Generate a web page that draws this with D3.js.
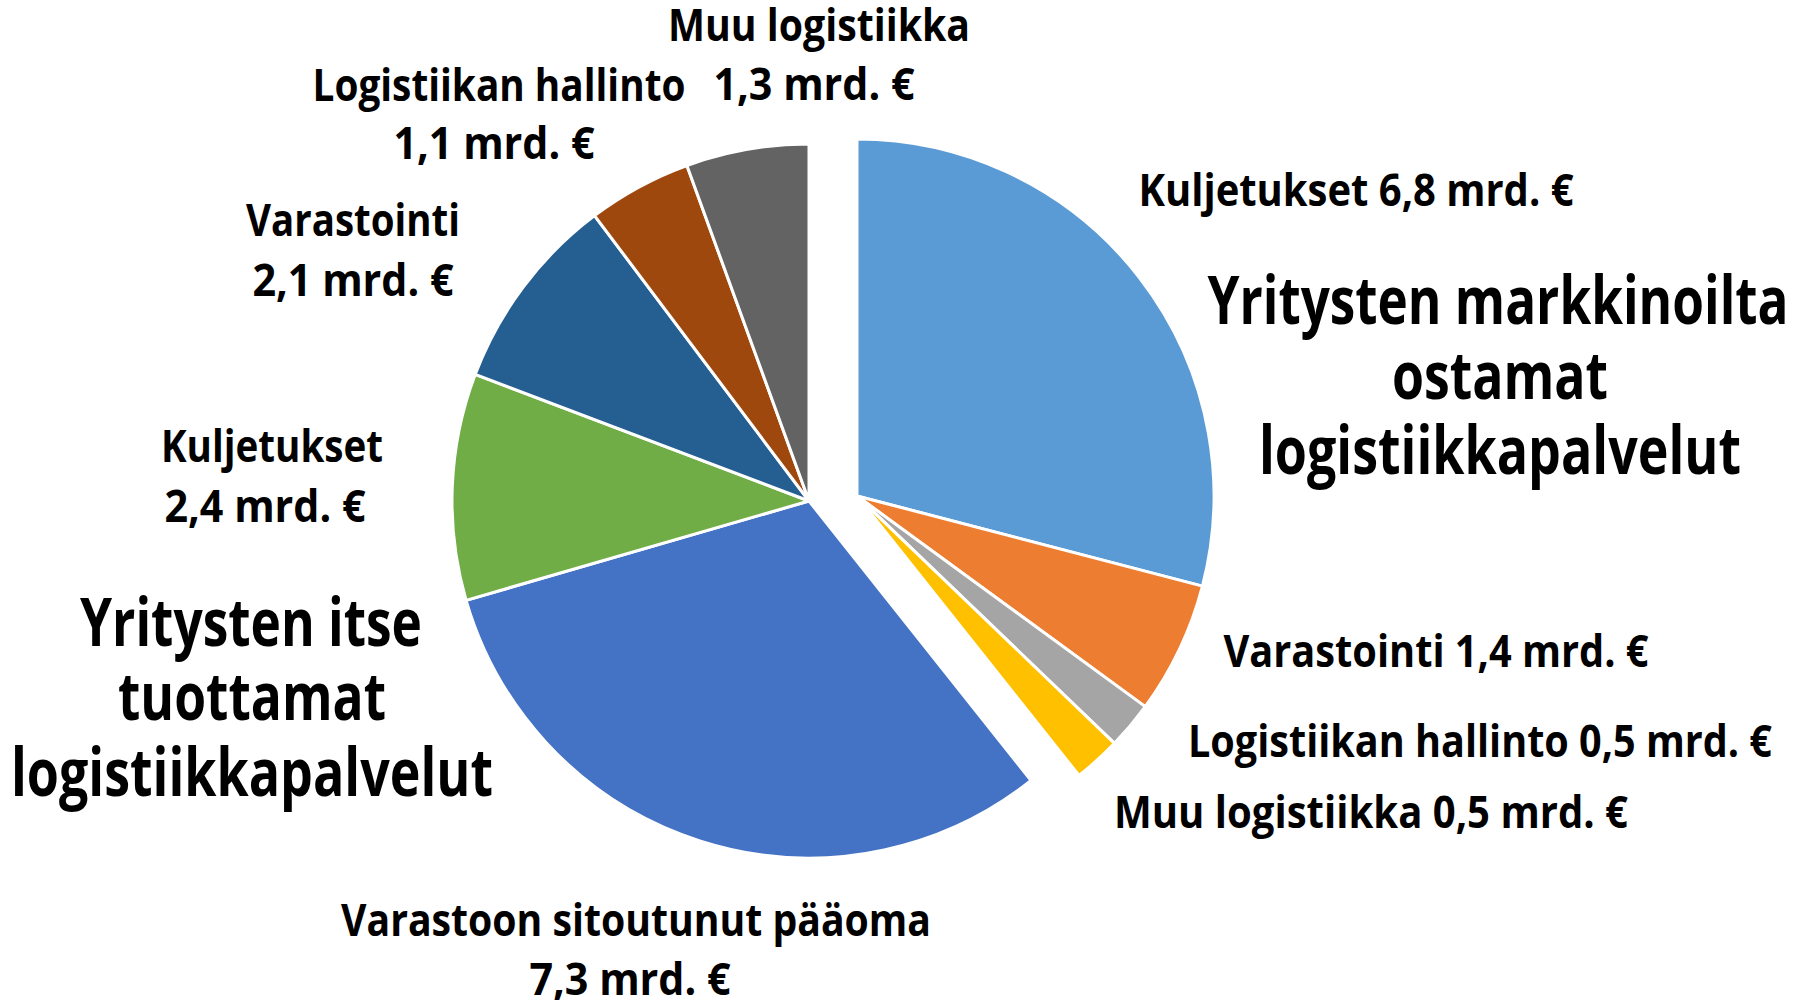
<!DOCTYPE html>
<html>
<head>
<meta charset="utf-8">
<script src="https://cdn.jsdelivr.net/npm/d3@7"></script>
<style>
  html, body { margin: 0; padding: 0; background: #ffffff; }
  svg text { font-family: "Open Sans", "Noto Sans", sans-serif; font-weight: 700; fill: #000000; }
</style>
</head>
<body>
<svg id="chart" width="1798" height="1000"></svg>
<script>
// ---- Data ----
const categories = [
  "Kuljetukset", "Varastointi", "Logistiikan hallinto", "Muu logistiikka",
  "Varastoon sitoutunut pääoma", "Kuljetukset", "Varastointi", "Logistiikan hallinto", "Muu logistiikka"
];
const values = [6.8, 1.4, 0.5, 0.5, 7.3, 2.4, 2.1, 1.1, 1.3];
const groupOf = [0, 0, 0, 0, 1, 1, 1, 1, 1];
const groupTitles = [
  ["Yritysten markkinoilta", "ostamat", "logistiikkapalvelut"],
  ["Yritysten itse", "tuottamat", "logistiikkapalvelut"]
];
const unit = "mrd. €";

// ---- Styles / layout ----
const colors = ["#5B9BD5", "#ED7D31", "#A5A5A5", "#FFC000", "#4472C4", "#70AD47", "#255E91", "#9E480E", "#636363"];
const W = 1798, H = 1000;
const center = {x: 809, y: 501};
const radius = 357;
const groupShift = [{dx: 48, dy: -5}, {dx: 0, dy: 0}];
// label anchor layout (center x, baseline y, target width) for each line
const labelLayout = [
  [{x: 1356, y: 206, w: 435}],
  [{x: 1436, y: 667, w: 425}],
  [{x: 1480, y: 757, w: 584}],
  [{x: 1371, y: 828, w: 514}],
  [{x: 636, y: 936, w: 590}, {x: 630, y: 995, w: 201}],
  [{x: 272, y: 462, w: 222}, {x: 265, y: 522, w: 201}],
  [{x: 353, y: 236, w: 214}, {x: 353, y: 296, w: 201}],
  [{x: 499, y: 101, w: 373}, {x: 494, y: 159, w: 201}],
  [{x: 819, y: 41, w: 302}, {x: 814, y: 100, w: 201}]
];
const titleLayout = [
  [{x: 1498, y: 324, w: 581}, {x: 1500, y: 399, w: 216}, {x: 1500, y: 474, w: 482}],
  [{x: 251, y: 646, w: 342}, {x: 252, y: 720, w: 268}, {x: 252, y: 796, w: 482}]
];
const smallFont = 44, bigFont = 66;

const fmt = v => String(v).replace(".", ",") + " " + unit;

const data = categories.map((c, i) => ({name: c, value: values[i], group: groupOf[i], color: colors[i], idx: i}));

const svg = d3.select("#chart");
const pie = d3.pie().sort(null).value(d => d.value).startAngle(0).endAngle(2 * Math.PI);
const arc = d3.arc().innerRadius(0).outerRadius(radius);
const arcs = pie(data);

const g = svg.append("g").attr("transform", `translate(${center.x},${center.y})`);
g.selectAll("path.slice")
  .data(arcs)
  .join("path")
  .attr("class", "slice")
  .attr("d", arc)
  .attr("transform", d => `translate(${groupShift[d.data.group].dx},${groupShift[d.data.group].dy})`)
  .attr("fill", d => d.data.color)
  .attr("stroke", "#ffffff")
  .attr("stroke-width", 3)
  .attr("stroke-linejoin", "round");

// slice labels
data.forEach((d, i) => {
  const lines = d.group === 0 ? [d.name + " " + fmt(d.value)] : [d.name, fmt(d.value)];
  lines.forEach((t, j) => {
    const L = labelLayout[i][j];
    svg.append("text")
      .attr("x", L.x).attr("y", L.y)
      .attr("text-anchor", "middle")
      .attr("font-size", smallFont)
      .attr("textLength", L.w)
      .attr("lengthAdjust", "spacingAndGlyphs")
      .text(t);
  });
});

// group titles
groupTitles.forEach((lines, gi) => {
  lines.forEach((t, j) => {
    const L = titleLayout[gi][j];
    svg.append("text")
      .attr("x", L.x).attr("y", L.y)
      .attr("text-anchor", "middle")
      .attr("font-size", bigFont)
      .attr("textLength", L.w)
      .attr("lengthAdjust", "spacingAndGlyphs")
      .text(t);
  });
});
</script>
</body>
</html>
